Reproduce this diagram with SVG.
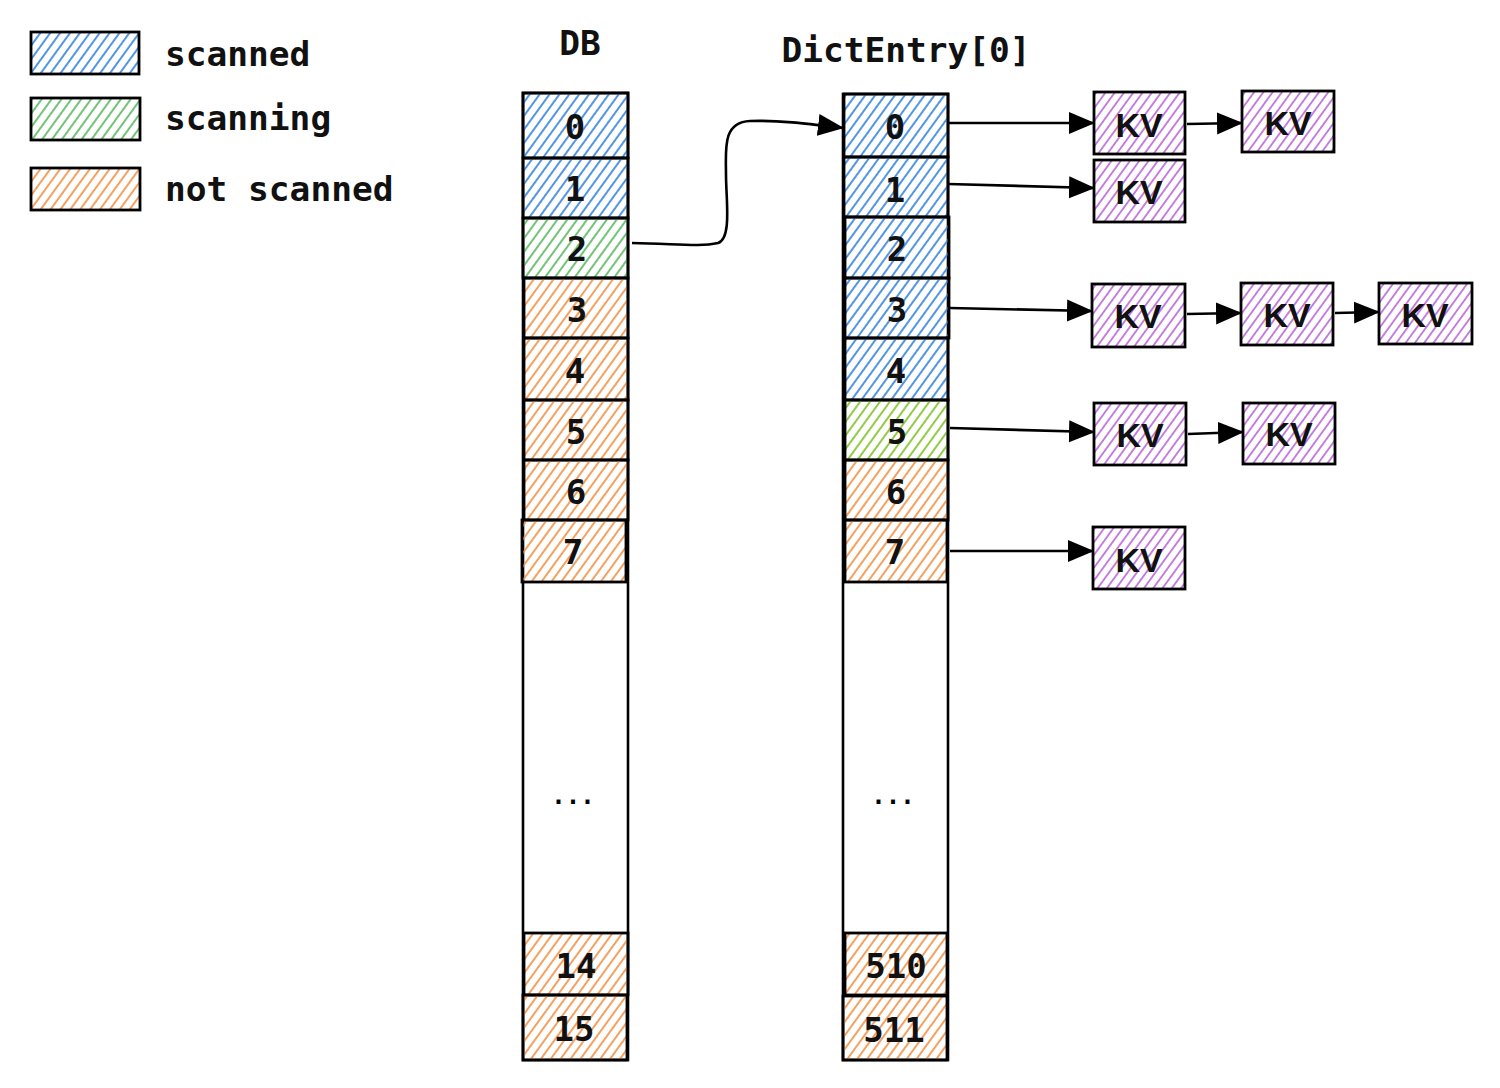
<svg xmlns="http://www.w3.org/2000/svg" width="1500" height="1088" viewBox="0 0 1500 1088">
<defs>
  <pattern id="hBlue" width="8" height="8" patternUnits="userSpaceOnUse" patternTransform="rotate(36)">
    <line x1="4" y1="0" x2="4" y2="8" stroke="#3f8ae0" stroke-width="1.8"/>
  </pattern>
  <pattern id="hGreen" width="8" height="8" patternUnits="userSpaceOnUse" patternTransform="rotate(36)">
    <line x1="4" y1="0" x2="4" y2="8" stroke="#62bd69" stroke-width="1.8"/>
  </pattern>
  <pattern id="hLime" width="8" height="8" patternUnits="userSpaceOnUse" patternTransform="rotate(36)">
    <line x1="4" y1="0" x2="4" y2="8" stroke="#86c631" stroke-width="1.8"/>
  </pattern>
  <pattern id="hOrange" width="8" height="8" patternUnits="userSpaceOnUse" patternTransform="rotate(36)">
    <line x1="4" y1="0" x2="4" y2="8" stroke="#f29750" stroke-width="1.8"/>
  </pattern>
  <pattern id="hPurple" width="7.5" height="7.5" patternUnits="userSpaceOnUse" patternTransform="rotate(36)">
    <line x1="3.75" y1="0" x2="3.75" y2="7.5" stroke="#c274de" stroke-width="1.8"/>
  </pattern>
  <marker id="arr" viewBox="0 0 26 24" refX="25" refY="12" markerWidth="26" markerHeight="24" markerUnits="userSpaceOnUse" orient="auto">
    <path d="M0,1 L26,12 L0,23 z" fill="#000"/>
  </marker>
</defs>
<style>
  .box { stroke:#000; stroke-width:2.8; }
  .col { fill:#fff; stroke:#000; stroke-width:2.6; }
  .blue { fill:url(#hBlue); }
  .green { fill:url(#hGreen); }
  .lime { fill:url(#hLime); }
  .orange { fill:url(#hOrange); }
  .purple { fill:url(#hPurple); }
  .mono { font-family:"DejaVu Sans Mono","Liberation Mono",monospace; font-size:34.5px; font-weight:bold; fill:#111; }
  .num { text-anchor:middle; dominant-baseline:central; font-size:34px; }
  .kv { font-family:"Liberation Sans","DejaVu Sans",sans-serif; font-size:34px; font-weight:bold; fill:#111; text-anchor:middle; dominant-baseline:central; }
  .dots { font-family:"DejaVu Sans Mono",monospace; font-size:24px; font-weight:bold; text-anchor:middle; fill:#000; }
  .conn { fill:none; stroke:#000; stroke-width:2.6; marker-end:url(#arr); }
</style>
<rect width="1500" height="1088" fill="#fff"/>

<!-- Legend -->
<g id="legend-scanned">
  <rect class="box blue" x="31" y="32" width="108" height="42"/>
  <text class="mono" x="165" y="66">scanned</text>
</g>
<g id="legend-scanning">
  <rect class="box green" x="31" y="98" width="109" height="42"/>
  <text class="mono" x="165" y="130">scanning</text>
</g>
<g id="legend-not-scanned">
  <rect class="box orange" x="31" y="168" width="109" height="42"/>
  <text class="mono" x="165" y="201">not scanned</text>
</g>

<!-- Titles -->
<g id="title-db"><text class="mono" x="580" y="55" text-anchor="middle">DB</text></g>
<g id="title-dictentry"><text class="mono" x="906" y="62" text-anchor="middle">DictEntry[0]</text></g>

<!-- DB column -->
<g id="db">
  <rect class="col" x="523" y="93" width="105" height="967"/>
  <g id="db-0"><rect class="box blue" x="523" y="93" width="105" height="65"/><text class="mono num" x="575" y="127">0</text></g>
  <g id="db-1"><rect class="box blue" x="523" y="158" width="105" height="60"/><text class="mono num" x="575" y="189">1</text></g>
  <g id="db-2"><rect class="box green" x="523" y="218" width="105" height="60"/><text class="mono num" x="577" y="249">2</text></g>
  <g id="db-3"><rect class="box orange" x="524" y="278" width="104" height="60"/><text class="mono num" x="577" y="310">3</text></g>
  <g id="db-4"><rect class="box orange" x="524" y="338" width="104" height="62"/><text class="mono num" x="575" y="371">4</text></g>
  <g id="db-5"><rect class="box orange" x="524" y="400" width="104" height="60"/><text class="mono num" x="576" y="432">5</text></g>
  <g id="db-6"><rect class="box orange" x="524" y="460" width="104" height="60"/><text class="mono num" x="576" y="492">6</text></g>
  <g id="db-7"><rect class="box orange" x="522" y="520" width="104" height="62"/><text class="mono num" x="573" y="552">7</text></g>
  <g id="db-dots"><text class="dots" x="573" y="804">...</text></g>
  <g id="db-14"><rect class="box orange" x="524" y="933" width="104" height="62"/><text class="mono num" x="576" y="966">14</text></g>
  <g id="db-15"><rect class="box orange" x="523" y="995" width="104" height="65"/><text class="mono num" x="574" y="1029">15</text></g>
</g>

<!-- DictEntry column -->
<g id="dict">
  <rect class="col" x="843" y="94" width="105" height="966"/>
  <g id="d-0"><rect class="box blue" x="844" y="94" width="104" height="63"/><text class="mono num" x="895" y="127">0</text></g>
  <g id="d-1"><rect class="box blue" x="844" y="157" width="104" height="60"/><text class="mono num" x="895" y="190">1</text></g>
  <g id="d-2"><rect class="box blue" x="845" y="217" width="104" height="61"/><text class="mono num" x="897" y="249">2</text></g>
  <g id="d-3"><rect class="box blue" x="845" y="278" width="104" height="60"/><text class="mono num" x="897" y="310">3</text></g>
  <g id="d-4"><rect class="box blue" x="845" y="338" width="103" height="62"/><text class="mono num" x="896" y="371">4</text></g>
  <g id="d-5"><rect class="box lime" x="845" y="400" width="103" height="60"/><text class="mono num" x="897" y="432">5</text></g>
  <g id="d-6"><rect class="box orange" x="845" y="460" width="103" height="60"/><text class="mono num" x="896" y="492">6</text></g>
  <g id="d-7"><rect class="box orange" x="845" y="520" width="102" height="62"/><text class="mono num" x="895" y="552">7</text></g>
  <g id="d-dots"><text class="dots" x="893" y="804">...</text></g>
  <g id="d-510"><rect class="box orange" x="845" y="933" width="102" height="62"/><text class="mono num" x="896" y="966">510</text></g>
  <g id="d-511"><rect class="box orange" x="843" y="996" width="104" height="64"/><text class="mono num" x="894" y="1030">511</text></g>
</g>

<!-- KV nodes -->
<g id="kv-0a"><rect class="box purple" x="1094" y="92" width="91" height="62"/><text class="kv" x="1139" y="125">KV</text></g>
<g id="kv-0b"><rect class="box purple" x="1242" y="91" width="92" height="61"/><text class="kv" x="1288" y="123">KV</text></g>
<g id="kv-1a"><rect class="box purple" x="1094" y="160" width="91" height="62"/><text class="kv" x="1139" y="192">KV</text></g>
<g id="kv-3a"><rect class="box purple" x="1092" y="284" width="93" height="63"/><text class="kv" x="1138" y="316">KV</text></g>
<g id="kv-3b"><rect class="box purple" x="1241" y="283" width="92" height="62"/><text class="kv" x="1287" y="315">KV</text></g>
<g id="kv-3c"><rect class="box purple" x="1379" y="283" width="93" height="61"/><text class="kv" x="1425" y="315">KV</text></g>
<g id="kv-5a"><rect class="box purple" x="1094" y="403" width="92" height="62"/><text class="kv" x="1140" y="435">KV</text></g>
<g id="kv-5b"><rect class="box purple" x="1243" y="403" width="92" height="61"/><text class="kv" x="1289" y="434">KV</text></g>
<g id="kv-7a"><rect class="box purple" x="1093" y="527" width="92" height="62"/><text class="kv" x="1139" y="560">KV</text></g>

<!-- Connectors -->
<g id="connectors">
  <path class="conn" d="M632,243 C680,244 700,247 718,243 C732,238 726,200 726,175 C726,150 722,122 750,121 C780,120 810,124 843,128"/>
  <path class="conn" d="M948,123 L1094,123"/>
  <path class="conn" d="M1187,124 L1242,123"/>
  <path class="conn" d="M948,184 L1094,188"/>
  <path class="conn" d="M950,308 L1092,311"/>
  <path class="conn" d="M1187,314 L1241,313"/>
  <path class="conn" d="M1335,313 L1379,312"/>
  <path class="conn" d="M950,428 L1094,432"/>
  <path class="conn" d="M1188,434 L1243,432"/>
  <path class="conn" d="M950,551 L1093,551"/>
</g>
</svg>
